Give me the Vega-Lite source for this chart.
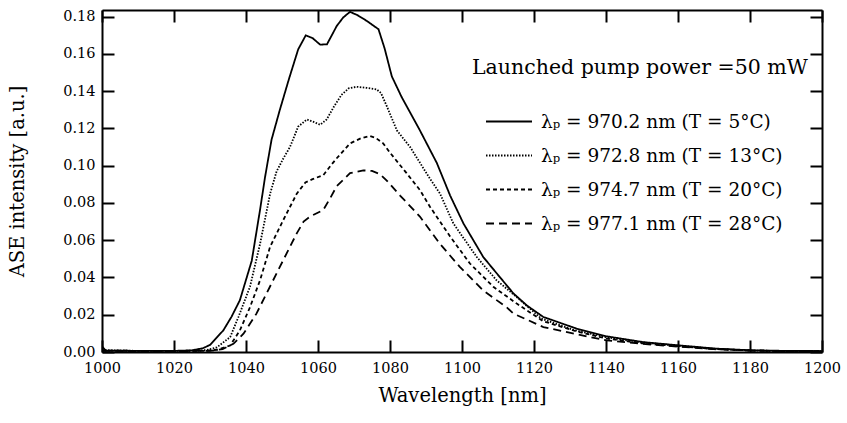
{
  "$schema": "https://vega.github.io/schema/vega-lite/v6.json",
  "width": 720,
  "height": 342,
  "autosize": {"type": "none"},
  "padding": {"left": 102, "top": 10, "right": 25, "bottom": 71},
  "background": "white",
  "config": {
    "view": {"stroke": null},
    "font": "DejaVu Serif",
    "axis": {
      "domainColor": "black",
      "domainWidth": 2,
      "tickColor": "black",
      "tickWidth": 2,
      "tickSize": -12,
      "grid": false,
      "labelFont": "DejaVu Serif",
      "labelFontSize": 14.5,
      "labelColor": "black",
      "titleFont": "DejaVu Serif",
      "titleFontSize": 19.5,
      "titleFontWeight": "normal",
      "titleColor": "black"
    }
  },
  "datasets": {
    "spec": [
      {"s": "970.2 nm (T = 5°C)", "w": 1000, "v": 0.003},
      {"s": "970.2 nm (T = 5°C)", "w": 1001, "v": 0.0008},
      {"s": "970.2 nm (T = 5°C)", "w": 1010, "v": 0.0006},
      {"s": "970.2 nm (T = 5°C)", "w": 1020, "v": 0.0006},
      {"s": "970.2 nm (T = 5°C)", "w": 1025, "v": 0.0009},
      {"s": "970.2 nm (T = 5°C)", "w": 1028, "v": 0.002},
      {"s": "970.2 nm (T = 5°C)", "w": 1030, "v": 0.0038},
      {"s": "970.2 nm (T = 5°C)", "w": 1033.7, "v": 0.0116},
      {"s": "970.2 nm (T = 5°C)", "w": 1036, "v": 0.019},
      {"s": "970.2 nm (T = 5°C)", "w": 1038.3, "v": 0.0278},
      {"s": "970.2 nm (T = 5°C)", "w": 1041.6, "v": 0.049},
      {"s": "970.2 nm (T = 5°C)", "w": 1043.9, "v": 0.0763},
      {"s": "970.2 nm (T = 5°C)", "w": 1045.3, "v": 0.094},
      {"s": "970.2 nm (T = 5°C)", "w": 1047.1, "v": 0.114},
      {"s": "970.2 nm (T = 5°C)", "w": 1049.4, "v": 0.130},
      {"s": "970.2 nm (T = 5°C)", "w": 1052, "v": 0.147},
      {"s": "970.2 nm (T = 5°C)", "w": 1054.5, "v": 0.1625},
      {"s": "970.2 nm (T = 5°C)", "w": 1056.6, "v": 0.170},
      {"s": "970.2 nm (T = 5°C)", "w": 1058.5, "v": 0.1685},
      {"s": "970.2 nm (T = 5°C)", "w": 1060.6, "v": 0.1650},
      {"s": "970.2 nm (T = 5°C)", "w": 1062.5, "v": 0.1652},
      {"s": "970.2 nm (T = 5°C)", "w": 1065.2, "v": 0.175},
      {"s": "970.2 nm (T = 5°C)", "w": 1067, "v": 0.1796},
      {"s": "970.2 nm (T = 5°C)", "w": 1068.9, "v": 0.1826},
      {"s": "970.2 nm (T = 5°C)", "w": 1071, "v": 0.1808},
      {"s": "970.2 nm (T = 5°C)", "w": 1073.5, "v": 0.1778},
      {"s": "970.2 nm (T = 5°C)", "w": 1076.8, "v": 0.1733},
      {"s": "970.2 nm (T = 5°C)", "w": 1078.5, "v": 0.163},
      {"s": "970.2 nm (T = 5°C)", "w": 1080.5, "v": 0.148},
      {"s": "970.2 nm (T = 5°C)", "w": 1083.2, "v": 0.137},
      {"s": "970.2 nm (T = 5°C)", "w": 1088.3, "v": 0.119},
      {"s": "970.2 nm (T = 5°C)", "w": 1093, "v": 0.1015},
      {"s": "970.2 nm (T = 5°C)", "w": 1096.7, "v": 0.084},
      {"s": "970.2 nm (T = 5°C)", "w": 1100.4, "v": 0.069},
      {"s": "970.2 nm (T = 5°C)", "w": 1105.9, "v": 0.051},
      {"s": "970.2 nm (T = 5°C)", "w": 1110.6, "v": 0.040},
      {"s": "970.2 nm (T = 5°C)", "w": 1114.3, "v": 0.0314},
      {"s": "970.2 nm (T = 5°C)", "w": 1118, "v": 0.025},
      {"s": "970.2 nm (T = 5°C)", "w": 1122.6, "v": 0.0188},
      {"s": "970.2 nm (T = 5°C)", "w": 1131.9, "v": 0.0125},
      {"s": "970.2 nm (T = 5°C)", "w": 1140.2, "v": 0.0084},
      {"s": "970.2 nm (T = 5°C)", "w": 1150.4, "v": 0.0053},
      {"s": "970.2 nm (T = 5°C)", "w": 1160.6, "v": 0.0035},
      {"s": "970.2 nm (T = 5°C)", "w": 1170.7, "v": 0.0018},
      {"s": "970.2 nm (T = 5°C)", "w": 1180.5, "v": 0.0009},
      {"s": "970.2 nm (T = 5°C)", "w": 1190, "v": 0.0006},
      {"s": "970.2 nm (T = 5°C)", "w": 1200, "v": 0.0005},

      {"s": "972.8 nm (T = 13°C)", "w": 1000, "v": 0.001},
      {"s": "972.8 nm (T = 13°C)", "w": 1010, "v": 0.0006},
      {"s": "972.8 nm (T = 13°C)", "w": 1020, "v": 0.0006},
      {"s": "972.8 nm (T = 13°C)", "w": 1026, "v": 0.0007},
      {"s": "972.8 nm (T = 13°C)", "w": 1029, "v": 0.001},
      {"s": "972.8 nm (T = 13°C)", "w": 1031.9, "v": 0.0025},
      {"s": "972.8 nm (T = 13°C)", "w": 1035.6, "v": 0.008},
      {"s": "972.8 nm (T = 13°C)", "w": 1037.9, "v": 0.0188},
      {"s": "972.8 nm (T = 13°C)", "w": 1041.1, "v": 0.035},
      {"s": "972.8 nm (T = 13°C)", "w": 1043.9, "v": 0.058},
      {"s": "972.8 nm (T = 13°C)", "w": 1046.7, "v": 0.085},
      {"s": "972.8 nm (T = 13°C)", "w": 1048.5, "v": 0.097},
      {"s": "972.8 nm (T = 13°C)", "w": 1050.4, "v": 0.104},
      {"s": "972.8 nm (T = 13°C)", "w": 1052.2, "v": 0.110},
      {"s": "972.8 nm (T = 13°C)", "w": 1054.5, "v": 0.121},
      {"s": "972.8 nm (T = 13°C)", "w": 1056.9, "v": 0.1248},
      {"s": "972.8 nm (T = 13°C)", "w": 1058.8, "v": 0.1235},
      {"s": "972.8 nm (T = 13°C)", "w": 1060.6, "v": 0.122},
      {"s": "972.8 nm (T = 13°C)", "w": 1062.4, "v": 0.1248},
      {"s": "972.8 nm (T = 13°C)", "w": 1064.5, "v": 0.132},
      {"s": "972.8 nm (T = 13°C)", "w": 1066.5, "v": 0.138},
      {"s": "972.8 nm (T = 13°C)", "w": 1068.5, "v": 0.1415},
      {"s": "972.8 nm (T = 13°C)", "w": 1070.7, "v": 0.1424},
      {"s": "972.8 nm (T = 13°C)", "w": 1073.5, "v": 0.1418},
      {"s": "972.8 nm (T = 13°C)", "w": 1076.3, "v": 0.141},
      {"s": "972.8 nm (T = 13°C)", "w": 1077.5, "v": 0.139},
      {"s": "972.8 nm (T = 13°C)", "w": 1079.1, "v": 0.132},
      {"s": "972.8 nm (T = 13°C)", "w": 1081.9, "v": 0.119},
      {"s": "972.8 nm (T = 13°C)", "w": 1085.6, "v": 0.110},
      {"s": "972.8 nm (T = 13°C)", "w": 1091.1, "v": 0.093},
      {"s": "972.8 nm (T = 13°C)", "w": 1093.9, "v": 0.085},
      {"s": "972.8 nm (T = 13°C)", "w": 1097.6, "v": 0.069},
      {"s": "972.8 nm (T = 13°C)", "w": 1104.1, "v": 0.051},
      {"s": "972.8 nm (T = 13°C)", "w": 1109.6, "v": 0.0385},
      {"s": "972.8 nm (T = 13°C)", "w": 1115.2, "v": 0.0295},
      {"s": "972.8 nm (T = 13°C)", "w": 1122, "v": 0.0180},
      {"s": "972.8 nm (T = 13°C)", "w": 1131, "v": 0.0118},
      {"s": "972.8 nm (T = 13°C)", "w": 1140, "v": 0.0080},
      {"s": "972.8 nm (T = 13°C)", "w": 1150, "v": 0.0051},
      {"s": "972.8 nm (T = 13°C)", "w": 1160, "v": 0.0033},
      {"s": "972.8 nm (T = 13°C)", "w": 1170, "v": 0.0017},
      {"s": "972.8 nm (T = 13°C)", "w": 1180, "v": 0.0008},
      {"s": "972.8 nm (T = 13°C)", "w": 1190, "v": 0.0005},
      {"s": "972.8 nm (T = 13°C)", "w": 1200, "v": 0.0004},

      {"s": "974.7 nm (T = 20°C)", "w": 1000, "v": 0.0008},
      {"s": "974.7 nm (T = 20°C)", "w": 1010, "v": 0.0006},
      {"s": "974.7 nm (T = 20°C)", "w": 1020, "v": 0.0005},
      {"s": "974.7 nm (T = 20°C)", "w": 1028, "v": 0.0006},
      {"s": "974.7 nm (T = 20°C)", "w": 1032, "v": 0.0012},
      {"s": "974.7 nm (T = 20°C)", "w": 1035.6, "v": 0.0035},
      {"s": "974.7 nm (T = 20°C)", "w": 1038.3, "v": 0.0116},
      {"s": "974.7 nm (T = 20°C)", "w": 1041.1, "v": 0.024},
      {"s": "974.7 nm (T = 20°C)", "w": 1043.9, "v": 0.0385},
      {"s": "974.7 nm (T = 20°C)", "w": 1046.7, "v": 0.0565},
      {"s": "974.7 nm (T = 20°C)", "w": 1050.4, "v": 0.071},
      {"s": "974.7 nm (T = 20°C)", "w": 1054.1, "v": 0.085},
      {"s": "974.7 nm (T = 20°C)", "w": 1056.5, "v": 0.091},
      {"s": "974.7 nm (T = 20°C)", "w": 1058.5, "v": 0.0928},
      {"s": "974.7 nm (T = 20°C)", "w": 1061.5, "v": 0.095},
      {"s": "974.7 nm (T = 20°C)", "w": 1063.5, "v": 0.100},
      {"s": "974.7 nm (T = 20°C)", "w": 1065.2, "v": 0.104},
      {"s": "974.7 nm (T = 20°C)", "w": 1068.9, "v": 0.112},
      {"s": "974.7 nm (T = 20°C)", "w": 1072, "v": 0.1148},
      {"s": "974.7 nm (T = 20°C)", "w": 1074.4, "v": 0.116},
      {"s": "974.7 nm (T = 20°C)", "w": 1076, "v": 0.115},
      {"s": "974.7 nm (T = 20°C)", "w": 1078.1, "v": 0.112},
      {"s": "974.7 nm (T = 20°C)", "w": 1080, "v": 0.107},
      {"s": "974.7 nm (T = 20°C)", "w": 1084.6, "v": 0.096},
      {"s": "974.7 nm (T = 20°C)", "w": 1088.3, "v": 0.087},
      {"s": "974.7 nm (T = 20°C)", "w": 1091.1, "v": 0.078},
      {"s": "974.7 nm (T = 20°C)", "w": 1096.7, "v": 0.062},
      {"s": "974.7 nm (T = 20°C)", "w": 1102.2, "v": 0.0475},
      {"s": "974.7 nm (T = 20°C)", "w": 1108.7, "v": 0.035},
      {"s": "974.7 nm (T = 20°C)", "w": 1115.2, "v": 0.026},
      {"s": "974.7 nm (T = 20°C)", "w": 1122.6, "v": 0.0165},
      {"s": "974.7 nm (T = 20°C)", "w": 1131.9, "v": 0.011},
      {"s": "974.7 nm (T = 20°C)", "w": 1140.2, "v": 0.0072},
      {"s": "974.7 nm (T = 20°C)", "w": 1150, "v": 0.0047},
      {"s": "974.7 nm (T = 20°C)", "w": 1160, "v": 0.0031},
      {"s": "974.7 nm (T = 20°C)", "w": 1170, "v": 0.0016},
      {"s": "974.7 nm (T = 20°C)", "w": 1180, "v": 0.0008},
      {"s": "974.7 nm (T = 20°C)", "w": 1190, "v": 0.0005},
      {"s": "974.7 nm (T = 20°C)", "w": 1200, "v": 0.0004},

      {"s": "977.1 nm (T = 28°C)", "w": 1000, "v": 0.0006},
      {"s": "977.1 nm (T = 28°C)", "w": 1010, "v": 0.0005},
      {"s": "977.1 nm (T = 28°C)", "w": 1020, "v": 0.0005},
      {"s": "977.1 nm (T = 28°C)", "w": 1030, "v": 0.0006},
      {"s": "977.1 nm (T = 28°C)", "w": 1033.5, "v": 0.0015},
      {"s": "977.1 nm (T = 28°C)", "w": 1036.5, "v": 0.0044},
      {"s": "977.1 nm (T = 28°C)", "w": 1039.3, "v": 0.0098},
      {"s": "977.1 nm (T = 28°C)", "w": 1042.9, "v": 0.0206},
      {"s": "977.1 nm (T = 28°C)", "w": 1045.7, "v": 0.0314},
      {"s": "977.1 nm (T = 28°C)", "w": 1049.4, "v": 0.0457},
      {"s": "977.1 nm (T = 28°C)", "w": 1054.1, "v": 0.0637},
      {"s": "977.1 nm (T = 28°C)", "w": 1056, "v": 0.070},
      {"s": "977.1 nm (T = 28°C)", "w": 1057.8, "v": 0.0727},
      {"s": "977.1 nm (T = 28°C)", "w": 1061.5, "v": 0.0763},
      {"s": "977.1 nm (T = 28°C)", "w": 1063.5, "v": 0.083},
      {"s": "977.1 nm (T = 28°C)", "w": 1065.2, "v": 0.089},
      {"s": "977.1 nm (T = 28°C)", "w": 1068.9, "v": 0.096},
      {"s": "977.1 nm (T = 28°C)", "w": 1072.6, "v": 0.0975},
      {"s": "977.1 nm (T = 28°C)", "w": 1075, "v": 0.0972},
      {"s": "977.1 nm (T = 28°C)", "w": 1077.2, "v": 0.0955},
      {"s": "977.1 nm (T = 28°C)", "w": 1079.1, "v": 0.092},
      {"s": "977.1 nm (T = 28°C)", "w": 1082.8, "v": 0.084},
      {"s": "977.1 nm (T = 28°C)", "w": 1088.3, "v": 0.0727},
      {"s": "977.1 nm (T = 28°C)", "w": 1093.9, "v": 0.058},
      {"s": "977.1 nm (T = 28°C)", "w": 1099.4, "v": 0.0457},
      {"s": "977.1 nm (T = 28°C)", "w": 1105.9, "v": 0.033},
      {"s": "977.1 nm (T = 28°C)", "w": 1112.4, "v": 0.024},
      {"s": "977.1 nm (T = 28°C)", "w": 1114.3, "v": 0.0206},
      {"s": "977.1 nm (T = 28°C)", "w": 1122.6, "v": 0.0134},
      {"s": "977.1 nm (T = 28°C)", "w": 1131.9, "v": 0.0095},
      {"s": "977.1 nm (T = 28°C)", "w": 1140.2, "v": 0.0062},
      {"s": "977.1 nm (T = 28°C)", "w": 1150, "v": 0.0044},
      {"s": "977.1 nm (T = 28°C)", "w": 1160, "v": 0.0029},
      {"s": "977.1 nm (T = 28°C)", "w": 1170, "v": 0.0015},
      {"s": "977.1 nm (T = 28°C)", "w": 1180, "v": 0.0008},
      {"s": "977.1 nm (T = 28°C)", "w": 1190, "v": 0.0005},
      {"s": "977.1 nm (T = 28°C)", "w": 1200, "v": 0.0004}
    ]
  },
  "data": {"name": "spec"},
  "layer": [
    {
      "mark": {"type": "line", "color": "black", "strokeWidth": 1.8, "clip": true},
      "encoding": {
        "x": {
          "field": "w", "type": "quantitative",
          "scale": {"domain": [1000, 1200], "nice": false, "zero": false},
          "axis": {
            "orient": "bottom", "title": "Wavelength [nm]",
            "values": [1000, 1020, 1040, 1060, 1080, 1100, 1120, 1140, 1160, 1180, 1200],
            "format": "d", "labelPadding": 21, "titlePadding": 12, "labelFlush": false
          }
        },
        "y": {
          "field": "v", "type": "quantitative",
          "scale": {"domain": [0, 0.1836], "nice": false},
          "axis": {
            "orient": "left", "title": "ASE intensity [a.u.]",
            "values": [0, 0.02, 0.04, 0.06, 0.08, 0.10, 0.12, 0.14, 0.16, 0.18],
            "format": ".2f", "labelPadding": 19, "titlePadding": 35, "labelFlush": false
          }
        },
        "strokeDash": {
          "field": "s", "type": "nominal",
          "scale": {
            "domain": ["970.2 nm (T = 5°C)", "972.8 nm (T = 13°C)", "974.7 nm (T = 20°C)", "977.1 nm (T = 28°C)"],
            "range": [[1, 0], [1.5, 1.5], [4, 3], [8, 5]]
          },
          "legend": {
            "orient": "none",
            "legendX": 370,
            "legendY": 48,
            "title": "Launched pump power =50 mW",
            "titleFont": "DejaVu Serif",
            "titleFontSize": 20.5,
            "titleFontWeight": "normal",
            "titleColor": "black",
            "titleLimit": 600,
            "titlePadding": 19,
            "labelFont": "DejaVu Serif",
            "labelFontSize": 18.5,
            "labelColor": "black",
            "labelLimit": 500,
            "labelExpr": "'λₚ = ' + datum.label",
            "symbolType": "stroke",
            "symbolSize": 2116,
            "symbolStrokeWidth": 1.8,
            "symbolStrokeColor": "black",
            "symbolOffset": 13,
            "labelOffset": 8,
            "rowPadding": -15
          }
        }
      }
    },
    {
      "mark": {"type": "line", "strokeOpacity": 0},
      "encoding": {
        "x": {
          "field": "w", "type": "quantitative",
          "axis": {
            "orient": "top", "title": null, "labels": false,
            "values": [1000, 1020, 1040, 1060, 1080, 1100, 1120, 1140, 1160, 1180, 1200]
          }
        },
        "y": {
          "field": "v", "type": "quantitative",
          "axis": {
            "orient": "right", "title": null, "labels": false,
            "values": [0, 0.02, 0.04, 0.06, 0.08, 0.10, 0.12, 0.14, 0.16, 0.18]
          }
        }
      }
    }
  ],
  "resolve": {"axis": {"x": "independent", "y": "independent"}}
}
